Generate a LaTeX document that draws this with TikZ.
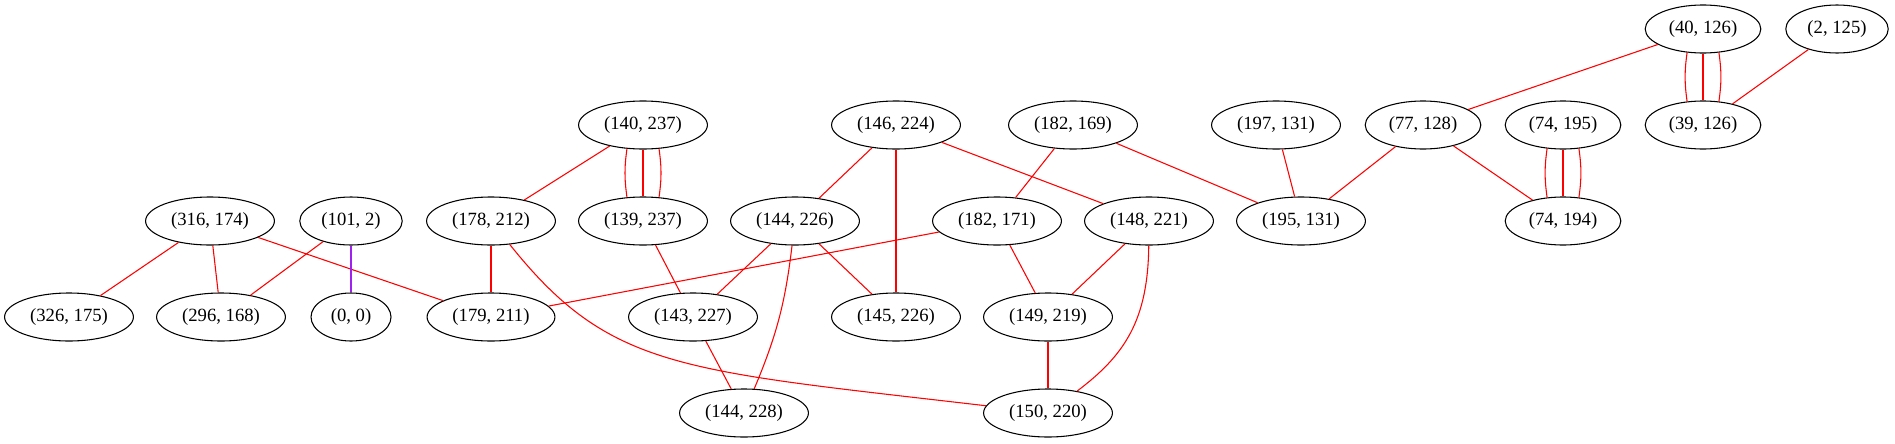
\documentclass[tikz,border=0pt]{standalone}
\usepackage{fontspec}
\setmainfont{Liberation Serif}
\usetikzlibrary{positioning,shapes.geometric}
\definecolor{gvred}{HTML}{FF0000}
\definecolor{gvpurple}{HTML}{A020F0}

\begin{document}
\begin{tikzpicture}[
	on grid,
	state/.style={draw, ellipse, line width=0.8pt, inner xsep=5pt, inner ysep=0pt,
		minimum height=36pt, minimum width=60pt, font=\fontsize{14pt}{16pt}\selectfont},
	link/.style={draw=gvred, line width=0.8pt},
	]
	\useasboundingbox (0,0) rectangle (1421.25pt,-332.25pt);
	% middle row
	\node[state] (v316-174) at (157.5pt,-165.75pt) {(316, 174)};
	\node[state, right=105.75pt of v316-174] (v101-2) {(101, 2)};
	\node[state, right=105pt of v101-2] (v178-212) {(178, 212)};
	\node[state, right=114pt of v178-212] (v139-237) {(139, 237)};
	\node[state, right=114pt of v139-237] (v144-226) {(144, 226)};
	\node[state, right=151.5pt of v144-226] (v182-171) {(182, 171)};
	\node[state, right=114pt of v182-171] (v148-221) {(148, 221)};
	\node[state, right=114pt of v148-221] (v195-131) {(195, 131)};
	\node[state, right=196.5pt of v195-131] (v74-194) {(74, 194)};
	% upper rows
	\node[state, above=72pt of v139-237] (v140-237) {(140, 237)};
	\node[state, right=189.75pt of v140-237] (v146-224) {(146, 224)};
	\node[state, right=132.75pt of v146-224] (v182-169) {(182, 169)};
	\node[state, right=152.25pt of v182-169] (v197-131) {(197, 131)};
	\node[state, right=110.25pt of v197-131] (v77-128) {(77, 128)};
	\node[state, above=72pt of v74-194] (v74-195) {(74, 195)};
	\node[state, right=105pt of v74-195] (v39-126) {(39, 126)};
	\node[state, above=72pt of v39-126] (v40-126) {(40, 126)};
	\node[state, right=100.5pt of v40-126] (v2-125) {(2, 125)};
	% lower rows
	\node[state, below left=72pt and 105.75pt of v316-174] (v326-175) {(326, 175)};
	\node[state, right=114pt of v326-175] (v296-168) {(296, 168)};
	\node[state, below=72pt of v101-2] (v0-0) {(0, 0)};
	\node[state, below=72pt of v178-212] (v179-211) {(179, 211)};
	\node[state, right=151.5pt of v179-211] (v143-227) {(143, 227)};
	\node[state, right=152.25pt of v143-227] (v145-226) {(145, 226)};
	\node[state, right=114pt of v145-226] (v149-219) {(149, 219)};
	\node[state, below right=72pt and 38.25pt of v143-227] (v144-228) {(144, 228)};
	\node[state, below=72pt of v149-219] (v150-220) {(150, 220)};

	\draw[link] (v40-126) -- (v77-128);
	\draw[link] (v40-126) -- (v39-126);
	\draw[link] (v40-126.-124) to[bend right=8] (v39-126.124);
	\draw[link] (v40-126.-56) to[bend left=8] (v39-126.56);
	\draw[link] (v2-125) -- (v39-126);
	\draw[link] (v140-237) -- (v178-212);
	\draw[link] (v140-237) -- (v139-237);
	\draw[link] (v140-237.-124) to[bend right=8] (v139-237.124);
	\draw[link] (v140-237.-56) to[bend left=8] (v139-237.56);
	\draw[link] (v146-224) -- (v144-226);
	\draw[link] (v146-224) -- (v145-226);
	\draw[link] (v146-224) -- (v148-221);
	\draw[link] (v182-169) -- (v182-171);
	\draw[link] (v182-169) -- (v195-131);
	\draw[link] (v197-131) -- (v195-131);
	\draw[link] (v77-128) -- (v195-131);
	\draw[link] (v77-128) -- (v74-194);
	\draw[link] (v74-195) -- (v74-194);
	\draw[link] (v74-195.-124) to[bend right=8] (v74-194.124);
	\draw[link] (v74-195.-56) to[bend left=8] (v74-194.56);
	\draw[link] (v316-174) -- (v326-175);
	\draw[link] (v316-174) -- (v296-168);
	\draw[link] (v316-174) -- (v179-211);
	\draw[link] (v101-2) -- (v296-168);
	\draw[link, draw=gvpurple] (v101-2) -- (v0-0);
	\draw[link] (v178-212) -- (v179-211);
	\draw[link] (v178-212) .. controls (457.5pt,-277.5pt) and (510pt,-277.5pt) .. (v150-220);
	\draw[link] (v139-237) -- (v143-227);
	\draw[link] (v144-226) -- (v143-227);
	\draw[link] (v144-226) to[bend left=8] (v144-228);
	\draw[link] (v144-226) -- (v145-226);
	\draw[link] (v182-171) -- (v179-211);
	\draw[link] (v182-171) -- (v149-219);
	\draw[link] (v148-221) -- (v149-219);
	\draw[link] (v148-221) .. controls (861pt,-240pt) and (843.75pt,-266.25pt) .. (v150-220);
	\draw[link] (v143-227) -- (v144-228);
	\draw[link] (v149-219) -- (v150-220);
\end{tikzpicture}
\end{document}
